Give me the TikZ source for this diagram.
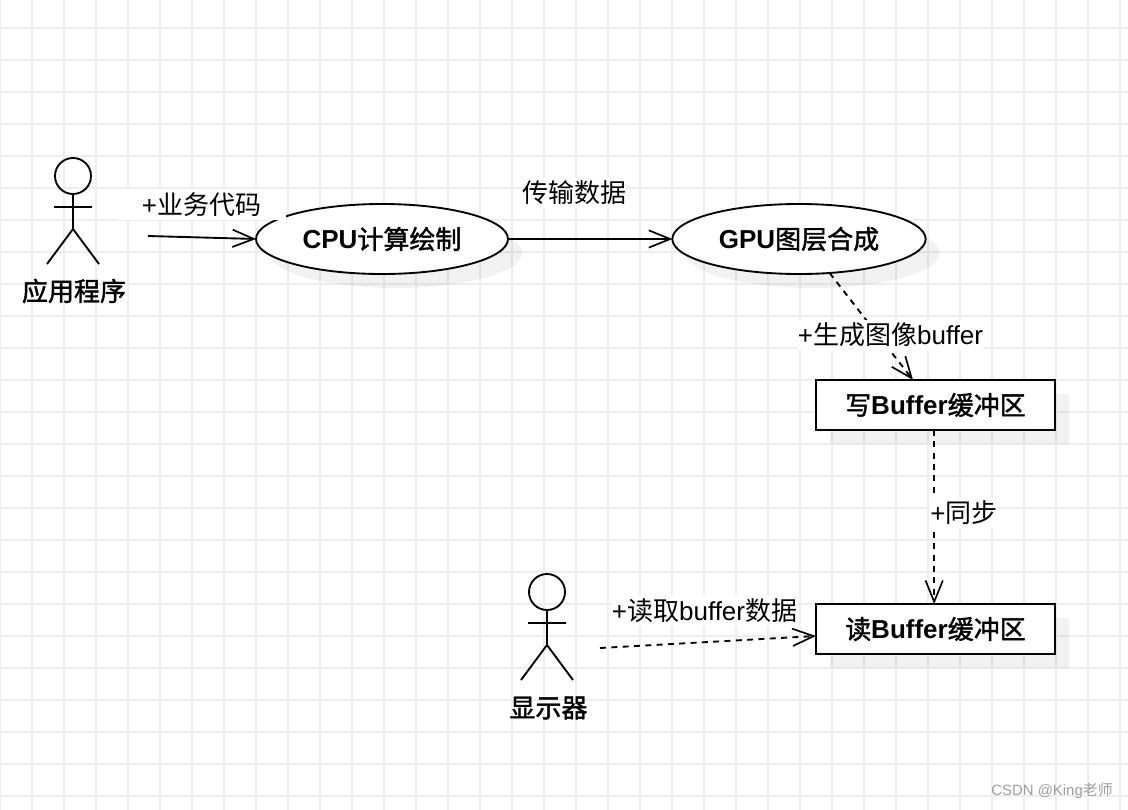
\documentclass[tikz,border=0pt]{standalone}
\usepackage{fontspec}
\setmainfont{Liberation Sans}
\newfontfamily\cjk[BoldFont={Noto Sans CJK SC},BoldFeatures={FakeBold=1.6}]{Noto Sans CJK SC}
\usetikzlibrary{arrows.meta,shapes.geometric,shadows}
\newcommand{\cn}[1]{{\cjk #1}}
\definecolor{gridgray}{HTML}{EEEEEE}
\tikzset{
  usecase/.style={ellipse,draw,fill=white,line width=1.4pt,outer sep=0pt,minimum width=190pt,minimum height=52.5pt,inner sep=0pt,font=\bfseries\fontsize{19.5}{22}\selectfont,
    drop shadow={shadow xshift=10.5pt,shadow yshift=-10.5pt,fill=black,opacity=0.055}},
  bufbox/.style={rectangle,draw,fill=white,line width=1.5pt,outer sep=0pt,minimum width=179.25pt,minimum height=37.5pt,inner sep=0pt,font=\bfseries\fontsize{19.5}{22}\selectfont,
    drop shadow={shadow xshift=10.5pt,shadow yshift=-10.5pt,fill=black,opacity=0.055}},
  actorname/.style={font=\bfseries\fontsize{19.5}{22}\selectfont,inner sep=0pt},
  actorline/.style={line width=1.4pt},
  msg/.style={fill=white,inner xsep=0pt,inner ysep=2pt,font=\fontsize{19.5}{22}\selectfont},
  link/.style={line width=1.4pt,-{Straight Barb[length=16pt,width=13pt,line width=1.25pt]}},
  deplink/.style={link,dash pattern=on 4.5pt off 4pt},
}
\begin{document}
\begin{tikzpicture}[x=0.75pt,y=-0.75pt]
  \useasboundingbox (0,0) rectangle (1128,810);
  \clip (0,0) rectangle (1128,810);

  % grid
  \fill[white] (0,0) rectangle (1128,810);
  \foreach \gx in {0,32,...,1120} {
    \draw[gridgray,line width=1.2pt] (\gx,0) -- (\gx,810);
  }
  \foreach \gy in {28,60,...,796} {
    \draw[gridgray,line width=1.2pt] (0,\gy) -- (1128,\gy);
  }

  % first actor
  \draw[actorline] (73,176) circle[radius=18];
  \draw[actorline] (73,194) -- (73,229) (54,207) -- (92,207)
    (47,264) -- (73,229) -- (99,264);
  \node[actorname] (appname) at (74,291) {\cn{应用程序}};
  \coordinate (appout) at (148,236);

  % second actor
  \draw[actorline] (547,592) circle[radius=18];
  \draw[actorline] (547,610) -- (547,645) (528,623) -- (566,623)
    (521,680) -- (547,645) -- (573,680);
  \node[actorname] (dispname) at (548.5,708) {\cn{显示器}};
  \coordinate (dispout) at (600,648);

  % use cases
  \node[usecase,minimum width=189pt] (cpu) at (382,239) {CPU\cn{计算绘制}};
  \node[usecase] (gpu) at (799,239) {GPU\cn{图层合成}};

  % buffers
  \node[bufbox] (writebuf) at (935.5,405) {\cn{写}Buffer\cn{缓冲区}};
  \node[bufbox] (readbuf) at (935.5,629) {\cn{读}Buffer\cn{缓冲区}};

  % connectors
  \draw[link] (appout) -- (cpu.west);
  \draw[link,yshift=0.75pt] (cpu.east) -- (gpu.west);
  \draw[deplink] (gpu.-48) -- (writebuf.132);
  \draw[deplink] (writebuf.-93) -- (readbuf.93);
  \draw[deplink] (dispout) -- (readbuf.west |- 816,636);

  % labels
  \node[msg,minimum width=127pt] (bizlabel) at (201.5,205) {+\cn{业务代码}};
  \node[msg] (sendlabel) at (574,193) {\cn{传输数据}};
  \node[msg] (genlabel) at (890.5,335) {+\cn{生成图像}buffer};
  \node[msg] (synclabel) at (964,513) {+\cn{同步}};
  \node[msg] (readlabel) at (704.5,611) {+\cn{读取}buffer\cn{数据}};

  % watermark
  \node[anchor=east,inner sep=0pt,text=black!38,font=\fontsize{11.2}{13}\selectfont] (mark) at (1113,791) {CSDN @King\cn{老师}};
\end{tikzpicture}
\end{document}
